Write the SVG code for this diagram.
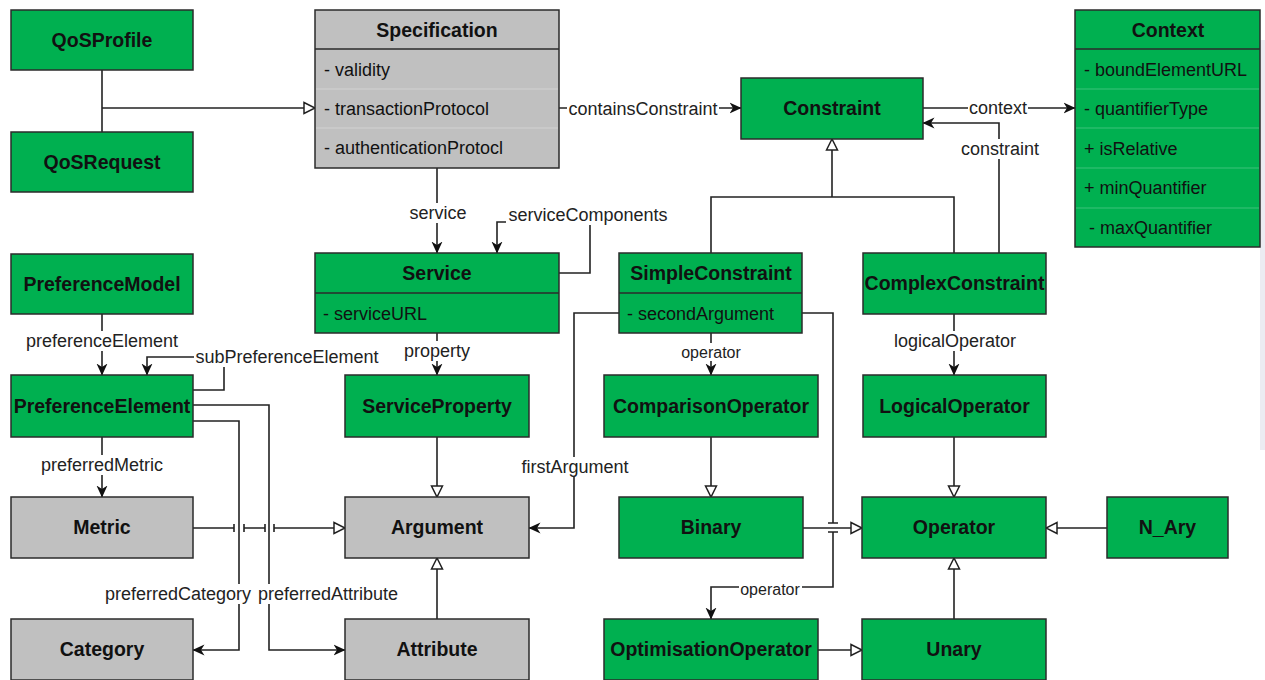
<svg xmlns="http://www.w3.org/2000/svg" width="1265" height="680" viewBox="0 0 1265 680">
  <style>
    .green { fill: #00b050; stroke: #2b2b2b; stroke-width: 1.5; }
    .gray { fill: #c0c0c0; stroke: #2b2b2b; stroke-width: 1.5; }
    .split { stroke: #2b2b2b; stroke-width: 1.5; }
    .rowg { stroke: #3cc27a; stroke-width: 1; }
    .rowy { stroke: #d2d2d2; stroke-width: 1; }
    .title { font-family: "Liberation Sans", Arial, sans-serif; font-size: 19.5px; font-weight: bold; fill: #111; text-anchor: middle; }
    .attr { font-family: "Liberation Sans", Arial, sans-serif; font-size: 18px; fill: #111; }
    .lbl { font-family: "Liberation Sans", Arial, sans-serif; font-size: 18px; fill: #222; text-anchor: middle; }
    .lbls { font-family: "Liberation Sans", Arial, sans-serif; font-size: 16px; fill: #222; text-anchor: middle; }
    .bg { fill: #ffffff; }
    .edge { fill: none; stroke: #222; stroke-width: 1.6; }
    .assoc { marker-end: url(#arrow); }
    .gen { marker-end: url(#hollow); }
  </style>
  <defs>
    <marker id="arrow" viewBox="0 0 12 12" markerWidth="12" markerHeight="12" refX="11.5" refY="6" orient="auto" markerUnits="userSpaceOnUse">
      <path d="M0,0.5 L12,6 L0,11.5 L3.5,6 z" fill="#111"/>
    </marker>
    <marker id="hollow" viewBox="0 0 14 14" markerWidth="14" markerHeight="14" refX="12.5" refY="7" orient="auto" markerUnits="userSpaceOnUse">
      <path d="M1.5,1.5 L12.5,7 L1.5,12.5 z" fill="#ffffff" stroke="#222" stroke-width="1.5"/>
    </marker>
  </defs>

  <rect width="1265" height="680" fill="#ffffff"/>
  <!-- thin shaded strip along the right margin -->
  <rect x="1260" y="40" width="5" height="410" fill="#ececf2"/>

  <!-- connectors -->
  <g id="connectors">
    <!-- QoSProfile / QoSRequest specialise Specification -->
    <path class="edge" d="M102,70 V132"/>
    <path class="edge gen" d="M102,108 H315"/>
    <!-- containsConstraint -->
    <path class="edge assoc" d="M559,108 H741"/>
    <!-- context -->
    <path class="edge assoc" d="M923,108 H1075"/>
    <!-- constraint -->
    <path class="edge assoc" d="M999,253 V123 H923"/>
    <!-- SimpleConstraint / ComplexConstraint specialise Constraint -->
    <path class="edge" d="M711,253 V197 H954 V253"/>
    <path class="edge gen" d="M832,197 V139"/>
    <!-- service -->
    <path class="edge assoc" d="M437,168 V253"/>
    <!-- serviceComponents -->
    <path class="edge assoc" d="M559,273 H590 V222 H497 V253"/>
    <!-- property -->
    <path class="edge assoc" d="M437,333 V375"/>
    <!-- ServiceProperty / Attribute specialise Argument -->
    <path class="edge gen" d="M437,437 V497"/>
    <path class="edge gen" d="M437,619 V558"/>
    <!-- preferenceElement -->
    <path class="edge assoc" d="M102,314 V375"/>
    <!-- subPreferenceElement -->
    <path class="edge assoc" d="M193,390 H224 V357 H147 V375"/>
    <!-- preferredMetric -->
    <path class="edge assoc" d="M102,437 V497"/>
    <!-- preferredCategory -->
    <path class="edge assoc" d="M193,421 H239 V650 H193"/>
    <!-- preferredAttribute -->
    <path class="edge assoc" d="M193,405 H269 V650 H345"/>
    <!-- Metric specialises Argument, with line jumps -->
    <path class="edge" d="M193,528 H234 M234,524 V532 M244,524 V532 M244,528 H265 M265,524 V532 M274,524 V532"/>
    <path class="edge gen" d="M274,528 H345"/>
    <!-- firstArgument -->
    <path class="edge assoc" d="M619,313 H574 V528 H529"/>
    <!-- operator (SimpleConstraint to ComparisonOperator) -->
    <path class="edge assoc" d="M711,333 V375"/>
    <!-- ComparisonOperator specialises Binary -->
    <path class="edge gen" d="M711,437 V497"/>
    <!-- Binary specialises Operator -->
    <path class="edge gen" d="M803,528 H862"/>
    <!-- secondArgument to OptimisationOperator, jumping over Binary edge -->
    <path class="edge" d="M802,313 H833 V523 M828,523 H838 M828,532 H838"/>
    <path class="edge assoc" d="M833,532 V587 H711 V619"/>
    <!-- logicalOperator -->
    <path class="edge assoc" d="M954,314 V375"/>
    <!-- LogicalOperator / N_Ary / Unary specialise Operator -->
    <path class="edge gen" d="M954,437 V497"/>
    <path class="edge gen" d="M1107,528 H1046"/>
    <path class="edge gen" d="M954,619 V558"/>
    <!-- OptimisationOperator specialises Unary -->
    <path class="edge gen" d="M818,650 H862"/>

    <!-- connector labels -->
    <rect class="bg" x="567" y="99" width="152" height="20"/>
    <text class="lbl" x="643" y="115">containsConstraint</text>
    <rect class="bg" x="968" y="98" width="60" height="20"/>
    <text class="lbl" x="998" y="114">context</text>
    <rect class="bg" x="960" y="139" width="80" height="20"/>
    <text class="lbl" x="1000" y="155">constraint</text>
    <rect class="bg" x="408" y="203" width="60" height="20"/>
    <text class="lbl" x="438" y="219">service</text>
    <rect class="bg" x="506" y="205" width="164" height="20"/>
    <text class="lbl" x="588" y="221">serviceComponents</text>
    <rect class="bg" x="403" y="341" width="68" height="20"/>
    <text class="lbl" x="437" y="357">property</text>
    <rect class="bg" x="25" y="331" width="155" height="20"/>
    <text class="lbl" x="102" y="347">preferenceElement</text>
    <rect class="bg" x="194" y="347" width="186" height="20"/>
    <text class="lbl" x="287" y="363">subPreferenceElement</text>
    <rect class="bg" x="40" y="455" width="124" height="20"/>
    <text class="lbl" x="102" y="471">preferredMetric</text>
    <rect class="bg" x="103" y="584" width="150" height="20"/>
    <text class="lbl" x="178" y="600">preferredCategory</text>
    <rect class="bg" x="257" y="584" width="143" height="20"/>
    <text class="lbl" x="328" y="600">preferredAttribute</text>
    <rect class="bg" x="521" y="457" width="109" height="20"/>
    <text class="lbl" x="575" y="473">firstArgument</text>
    <rect class="bg" x="680" y="343" width="62" height="18"/>
    <text class="lbls" x="711" y="358">operator</text>
    <rect class="bg" x="739" y="580" width="63" height="18"/>
    <text class="lbls" x="770" y="595">operator</text>
    <rect class="bg" x="893" y="331" width="124" height="20"/>
    <text class="lbl" x="955" y="347">logicalOperator</text>
  </g>

  <!-- classes -->
  <g id="QoSProfile">
    <rect class="green" x="11" y="10" width="182" height="60"/>
    <text class="title" x="102" y="47">QoSProfile</text>
  </g>
  <g id="QoSRequest">
    <rect class="green" x="11" y="132" width="182" height="60"/>
    <text class="title" x="102" y="169">QoSRequest</text>
  </g>
  <g id="Specification">
    <rect class="gray" x="315" y="10" width="244" height="158"/>
    <line class="split" x1="315" y1="49" x2="559" y2="49"/>
    <line class="rowy" x1="316" y1="89" x2="558" y2="89"/>
    <line class="rowy" x1="316" y1="128" x2="558" y2="128"/>
    <text class="title" x="437" y="37">Specification</text>
    <text class="attr" x="324" y="76">- validity</text>
    <text class="attr" x="324" y="115">- transactionProtocol</text>
    <text class="attr" x="324" y="154">- authenticationProtocl</text>
  </g>
  <g id="Constraint">
    <rect class="green" x="741" y="78" width="182" height="61"/>
    <text class="title" x="832" y="115">Constraint</text>
  </g>
  <g id="Context">
    <rect class="green" x="1075" y="10" width="185" height="237"/>
    <line class="split" x1="1075" y1="49" x2="1260" y2="49"/>
    <line class="rowg" x1="1076" y1="89" x2="1259" y2="89"/>
    <line class="rowg" x1="1076" y1="128" x2="1259" y2="128"/>
    <line class="rowg" x1="1076" y1="168" x2="1259" y2="168"/>
    <line class="rowg" x1="1076" y1="208" x2="1259" y2="208"/>
    <text class="title" x="1168" y="37">Context</text>
    <text class="attr" x="1084" y="76">- boundElementURL</text>
    <text class="attr" x="1084" y="115">- quantifierType</text>
    <text class="attr" x="1084" y="155">+ isRelative</text>
    <text class="attr" x="1084" y="194">+ minQuantifier</text>
    <text class="attr" x="1089" y="234">- maxQuantifier</text>
  </g>
  <g id="PreferenceModel">
    <rect class="green" x="11" y="254" width="182" height="60"/>
    <text class="title" x="102" y="291">PreferenceModel</text>
  </g>
  <g id="Service">
    <rect class="green" x="315" y="253" width="244" height="80"/>
    <line class="split" x1="315" y1="293" x2="559" y2="293"/>
    <text class="title" x="437" y="280">Service</text>
    <text class="attr" x="323" y="320">- serviceURL</text>
  </g>
  <g id="SimpleConstraint">
    <rect class="green" x="619" y="253" width="183" height="80"/>
    <line class="split" x1="619" y1="293" x2="802" y2="293"/>
    <text class="title" x="711" y="280">SimpleConstraint</text>
    <text class="attr" x="627" y="320">- secondArgument</text>
  </g>
  <g id="ComplexConstraint">
    <rect class="green" x="863" y="253" width="183" height="61"/>
    <text class="title" x="954.5" y="290">ComplexConstraint</text>
  </g>
  <g id="PreferenceElement">
    <rect class="green" x="11" y="375" width="182" height="62"/>
    <text class="title" x="102" y="413">PreferenceElement</text>
  </g>
  <g id="ServiceProperty">
    <rect class="green" x="345" y="375" width="184" height="62"/>
    <text class="title" x="437" y="413">ServiceProperty</text>
  </g>
  <g id="ComparisonOperator">
    <rect class="green" x="604" y="375" width="214" height="62"/>
    <text class="title" x="711" y="413">ComparisonOperator</text>
  </g>
  <g id="LogicalOperator">
    <rect class="green" x="863" y="375" width="183" height="62"/>
    <text class="title" x="954.5" y="413">LogicalOperator</text>
  </g>
  <g id="Metric">
    <rect class="gray" x="11" y="497" width="182" height="61"/>
    <text class="title" x="102" y="534">Metric</text>
  </g>
  <g id="Argument">
    <rect class="gray" x="345" y="497" width="184" height="61"/>
    <text class="title" x="437" y="534">Argument</text>
  </g>
  <g id="Binary">
    <rect class="green" x="619" y="497" width="184" height="61"/>
    <text class="title" x="711" y="534">Binary</text>
  </g>
  <g id="Operator">
    <rect class="green" x="862" y="497" width="184" height="61"/>
    <text class="title" x="954" y="534">Operator</text>
  </g>
  <g id="N_Ary">
    <rect class="green" x="1107" y="497" width="121" height="61"/>
    <text class="title" x="1167.5" y="534">N_Ary</text>
  </g>
  <g id="Category">
    <rect class="gray" x="11" y="619" width="182" height="61"/>
    <text class="title" x="102" y="656">Category</text>
  </g>
  <g id="Attribute">
    <rect class="gray" x="345" y="619" width="184" height="61"/>
    <text class="title" x="437" y="656">Attribute</text>
  </g>
  <g id="OptimisationOperator">
    <rect class="green" x="604" y="619" width="214" height="61"/>
    <text class="title" x="711" y="656">OptimisationOperator</text>
  </g>
  <g id="Unary">
    <rect class="green" x="862" y="619" width="184" height="61"/>
    <text class="title" x="954" y="656">Unary</text>
  </g>
</svg>
